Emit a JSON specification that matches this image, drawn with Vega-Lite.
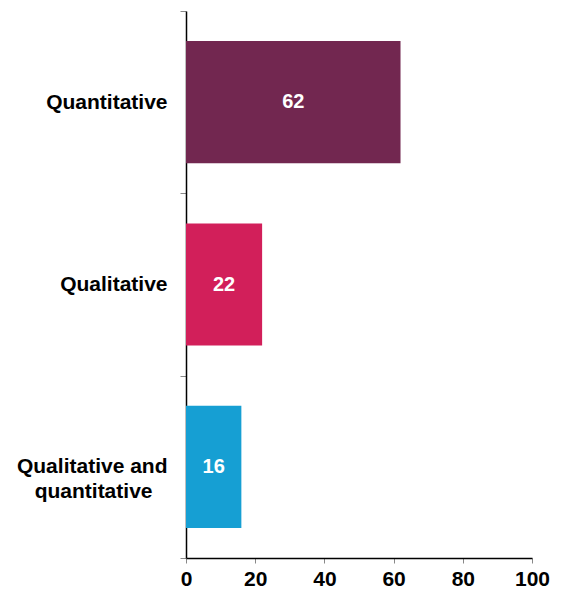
{
  "$schema": "https://vega.github.io/schema/vega-lite/v6.json",
  "width": 346,
  "height": 547,
  "autosize": {"type": "none"},
  "padding": {"left": 186, "top": 11, "right": 30, "bottom": 36},
  "background": "white",
  "config": {
    "view": {"stroke": null},
    "font": "Arial, Liberation Sans, sans-serif"
  },
  "data": {
    "values": [
      {"category": "Quantitative", "value": 62},
      {"category": "Qualitative", "value": 22},
      {"category": "Qualitative and quantitative", "value": 16}
    ]
  },
  "transform": [{"calculate": "datum.value / 2", "as": "mid"}],
  "encoding": {
    "y": {
      "field": "category",
      "type": "nominal",
      "sort": null,
      "scale": {"paddingInner": 0, "paddingOuter": 0},
      "axis": {
        "title": null,
        "tickBand": "extent",
        "tickColor": "#888888",
        "tickSize": 6,
        "domainColor": "#000000",
        "domainWidth": 1.5,
        "labelFontSize": 21,
        "labelFontWeight": "bold",
        "labelColor": "#000000",
        "labelPadding": 13,
        "labelLineHeight": 25,
        "labelExpr": "datum.value == 'Qualitative and quantitative' ? ['Qualitative and', 'quantitative\u2800'] : datum.value"
      }
    }
  },
  "layer": [
    {
      "mark": {"type": "bar", "height": {"band": 0.67}},
      "encoding": {
        "x": {
          "field": "value",
          "type": "quantitative",
          "scale": {"domain": [0, 100], "nice": false},
          "axis": {
            "title": null,
            "values": [0, 20, 40, 60, 80, 100],
            "grid": false,
            "tickColor": "#888888",
            "tickSize": 5,
            "domainColor": "#000000",
            "domainWidth": 1.5,
            "labelFontSize": 21,
            "labelFontWeight": "bold",
            "labelColor": "#000000",
            "labelPadding": 5,
            "labelFlush": false
          }
        },
        "color": {
          "field": "category",
          "type": "nominal",
          "scale": {
            "domain": ["Quantitative", "Qualitative", "Qualitative and quantitative"],
            "range": ["#722750", "#D21F5A", "#169FD3"]
          },
          "legend": null
        }
      }
    },
    {
      "mark": {"type": "text", "color": "white", "fontSize": 20, "fontWeight": "bold", "align": "center", "baseline": "middle"},
      "encoding": {
        "x": {"field": "mid", "type": "quantitative"},
        "text": {"field": "value", "type": "quantitative"}
      }
    }
  ]
}
